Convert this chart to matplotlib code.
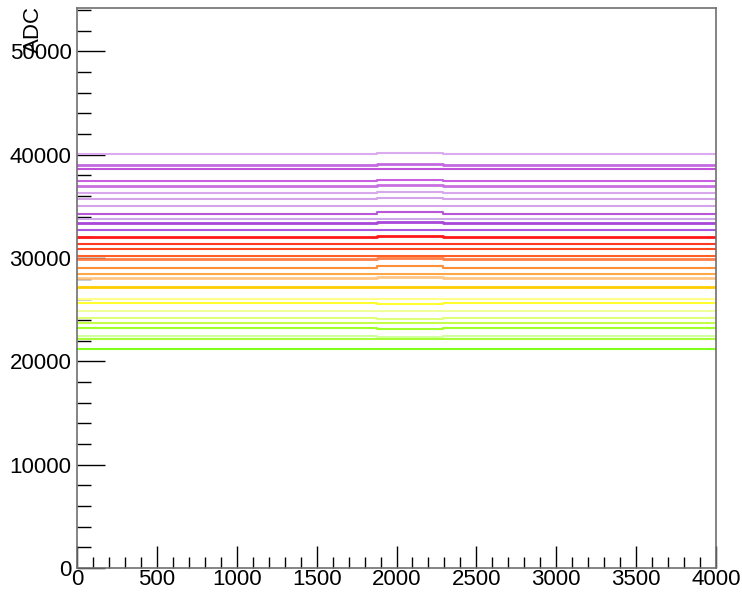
import numpy as np
import matplotlib.pyplot as plt
from matplotlib.ticker import MultipleLocator

plt.rcParams['font.family'] = ['Liberation Sans', 'DejaVu Sans']

# baseline ADC level of each channel (top to bottom)
base = [40100, 39040, 38660, 37460, 36970, 36300, 35720, 35040, 34300, 33820,
        33430, 32690, 32080, 31360, 30920, 30240, 29860, 29080, 28500, 28080,
        27150, 26050, 25630, 24880, 24180, 23690, 23210, 22410, 22120, 21210]
# shift of the level inside the middle sample window
bump = [100, 60, 0, 80, 130, 50, 100, 0, 130, 0,
        100, 0, 100, 0, 0, 0, 130, 170, 0, 130,
        60, 0, -80, 0, -60, 0, -70, -100, 50, 0]
noisy = [0, 1, 0, 0, 1, 0, 0, 0, 0, 0,
         1, 0, 1, 0, 0, 0, 1, 0, 0, 1,
         1, 0, 0, 0, 0, 0, 0, 0, 0, 0]
colors = ['#dcaaee', '#c468e0', '#c050d8', '#c860e0', '#c870e0', '#d8a8ec',
          '#d4a4ea', '#d4a4ea', '#b858d8', '#ccaae8', '#a848d8', '#a858e0',
          '#ff1818', '#ff3a20', '#ff4a20', '#ff6028', '#ff8048', '#ff9038',
          '#ffa848', '#ffc888', '#ffcc00', '#ffff88', '#ffff30', '#f0ff98',
          '#e0ff78', '#c4ff48', '#a0ff28', '#d0ffa0', '#a8ff38', '#80ff18']
edges = [0, 1880, 2290, 4000]

fig = plt.figure(figsize=(7.42, 5.94), dpi=100)
ax = fig.add_axes([77 / 742, 26 / 594, 639 / 742, 560 / 594])

for b, d, n, c in zip(base, bump, noisy, colors):
    y = [b, b + d, b, b]
    ax.step(edges, y, where='post', color=c, lw=2.0 if n else 1.5)

ax.set_xlim(0, 4000)
ax.set_ylim(0, 54200)
ax.xaxis.set_major_locator(MultipleLocator(500))
ax.xaxis.set_minor_locator(MultipleLocator(100))
ax.yaxis.set_major_locator(MultipleLocator(10000))
ax.yaxis.set_minor_locator(MultipleLocator(2000))
ax.tick_params(which='both', direction='in', labelsize=16, width=1, color='black')
ax.tick_params(axis='x', which='major', length=16, pad=1)
ax.tick_params(axis='x', which='minor', length=8)
ax.tick_params(axis='y', which='major', length=20, pad=4)
ax.tick_params(axis='y', which='minor', length=10)
for s in ax.spines.values():
    s.set_color('#707070')
    s.set_linewidth(1.2)

fig.text(33 / 742, 1 - 6 / 594, 'ADC', rotation=90, fontsize=16, ha='center', va='top')

fig.savefig('out.png', dpi=100)
